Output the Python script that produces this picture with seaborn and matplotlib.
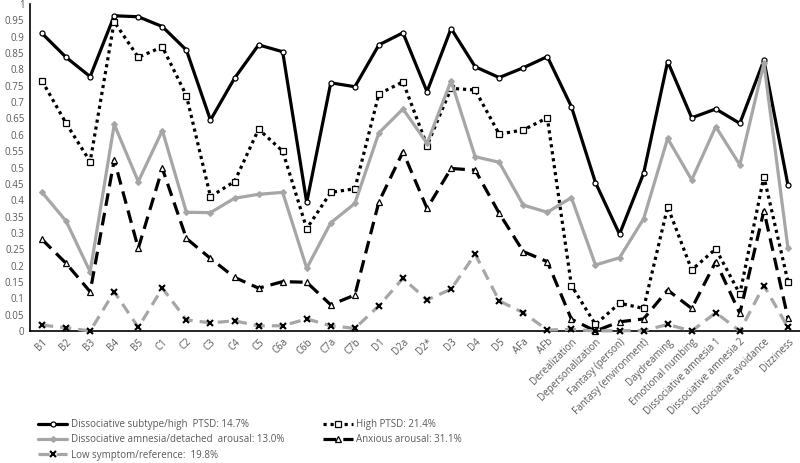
import matplotlib
matplotlib.use("Agg")
import matplotlib.pyplot as plt
import seaborn as sns
import pandas as pd
from matplotlib.lines import Line2D

categories = ["B1", "B2", "B3", "B4", "B5", "C1", "C2", "C3", "C4", "C5", "C6a", "C6b",
              "C7a", "C7b", "D1", "D2a", "D2*", "D3", "D4", "D5", "AFa", "AFb",
              "Derealization", "Depersonalization", "Fantasy (person)", "Fantasy (environment)",
              "Daydreaming", "Emotional numbing", "Dissociative amnesia 1",
              "Dissociative amnesia 2", "Dissociative avoidance", "Dizziness"]

dissociative_subtype = [0.910, 0.837, 0.778, 0.964, 0.961, 0.931, 0.859, 0.645, 0.773, 0.875,
                        0.854, 0.393, 0.759, 0.747, 0.875, 0.912, 0.732, 0.925, 0.808, 0.775,
                        0.805, 0.839, 0.686, 0.454, 0.296, 0.482, 0.824, 0.652, 0.679, 0.635,
                        0.828, 0.446]
high_ptsd = [0.765, 0.635, 0.518, 0.946, 0.837, 0.869, 0.720, 0.411, 0.457, 0.617,
             0.550, 0.313, 0.424, 0.435, 0.725, 0.762, 0.567, 0.742, 0.737, 0.602,
             0.615, 0.652, 0.139, 0.020, 0.085, 0.069, 0.380, 0.187, 0.251, 0.113,
             0.472, 0.151]
dissociative_amnesia = [0.424, 0.336, 0.181, 0.632, 0.457, 0.613, 0.363, 0.362, 0.406, 0.418,
                        0.424, 0.192, 0.331, 0.390, 0.606, 0.679, 0.574, 0.765, 0.533, 0.516,
                        0.385, 0.363, 0.408, 0.202, 0.224, 0.343, 0.589, 0.462, 0.625, 0.508,
                        0.819, 0.253]
anxious_arousal = [0.280, 0.207, 0.120, 0.523, 0.253, 0.497, 0.283, 0.222, 0.164, 0.131,
                   0.151, 0.149, 0.080, 0.110, 0.395, 0.548, 0.375, 0.497, 0.492, 0.360,
                   0.243, 0.212, 0.036, 0.000, 0.028, 0.037, 0.125, 0.069, 0.212, 0.054,
                   0.368, 0.039]
low_symptom = [0.018, 0.010, 0.000, 0.120, 0.011, 0.131, 0.034, 0.025, 0.031, 0.016,
               0.016, 0.037, 0.016, 0.008, 0.077, 0.161, 0.095, 0.128, 0.235, 0.092,
               0.056, 0.003, 0.005, 0.000, 0.001, 0.001, 0.020, 0.000, 0.056, 0.000,
               0.139, 0.011]

labels = ["Dissociative subtype/high  PTSD: 14.7%",
          "High PTSD: 21.4%",
          "Dissociative amnesia/detached  arousal: 13.0%",
          "Anxious arousal: 31.1%",
          "Low symptom/reference:  19.8%"]

yticks = [i * 0.05 for i in range(21)]
ytick_labels = [("%.2f" % t).rstrip("0").rstrip(".") for t in yticks]

series = [dissociative_subtype, high_ptsd, dissociative_amnesia, anxious_arousal, low_symptom]
styles = [
    dict(color="black", lw=2.3, ls="-", marker="o", mfc="white", mec="black", ms=3.6, mew=0.9),
    dict(color="black", lw=2.3, ls=(0, (1, 1.2)), marker="s", mfc="white", mec="black", ms=4.0, mew=0.9),
    dict(color="#a6a6a6", lw=2.3, ls="-", marker="D", mfc="#a6a6a6", mec="#a6a6a6", ms=3.0, mew=0.9),
    dict(color="black", lw=2.3, ls=(0, (4, 2.2)), marker="^", mfc="white", mec="black", ms=4.3, mew=0.9),
    dict(color="#a6a6a6", lw=2.3, ls=(0, (3.5, 2.2)), marker="x", mfc="black", mec="black", ms=4.2, mew=1.5),
]

sns.set_style("white")
plt.rcParams["font.family"] = ["Open Sans", "DejaVu Sans"]

fig = plt.figure(figsize=(8, 4.63), dpi=100)
ax = fig.add_axes([30 / 800, 1 - 331 / 463, 770 / 800, 327 / 463])

x_idx = list(range(len(categories)))
handles = []
for vals, lab, st in zip(series, labels, styles):
    df = pd.DataFrame({"x": x_idx, "y": vals})
    sns.lineplot(data=df, x="x", y="y", ax=ax, color=st["color"], linewidth=st["lw"],
                 linestyle=st["ls"], marker=st["marker"], markerfacecolor=st["mfc"],
                 markeredgecolor=st["mec"], markersize=st["ms"], markeredgewidth=st["mew"],
                 clip_on=False, zorder=3)
    handles.append(Line2D([0], [0], color=st["color"], lw=st["lw"], ls=st["ls"],
                          marker=st["marker"], mfc=st["mfc"], mec=st["mec"],
                          ms=st["ms"], mew=st["mew"], label=lab))

ax.set_xlim(-0.5, len(categories) - 0.5)
ax.set_ylim(0, 1)
ax.set_xticks(x_idx)
ax.set_xticklabels(categories, rotation=45, ha="right", rotation_mode="anchor",
                   fontsize=7, color="#595959")
ax.set_yticks(yticks)
ax.set_yticklabels(ytick_labels, fontsize=7, color="#595959")
ax.tick_params(axis="both", length=0, pad=4)
ax.set_xlabel("")
ax.set_ylabel("")
for side in ["top", "right"]:
    ax.spines[side].set_visible(False)
for side in ["left", "bottom"]:
    ax.spines[side].set_color("black")
    ax.spines[side].set_linewidth(1.2)
ax.grid(False)

order = [0, 2, 4, 1, 3]
leg = fig.legend([handles[i] for i in order], [labels[i] for i in order],
                 loc="upper left", bbox_to_anchor=(38 / 800, 1 - 419 / 463),
                 ncol=2, frameon=False, fontsize=7, handlelength=3.0,
                 columnspacing=4.0, labelspacing=0.45, handletextpad=0.4,
                 borderaxespad=0, borderpad=0)
for t in leg.get_texts():
    t.set_color("#595959")

fig.savefig("out.png", dpi=100)
